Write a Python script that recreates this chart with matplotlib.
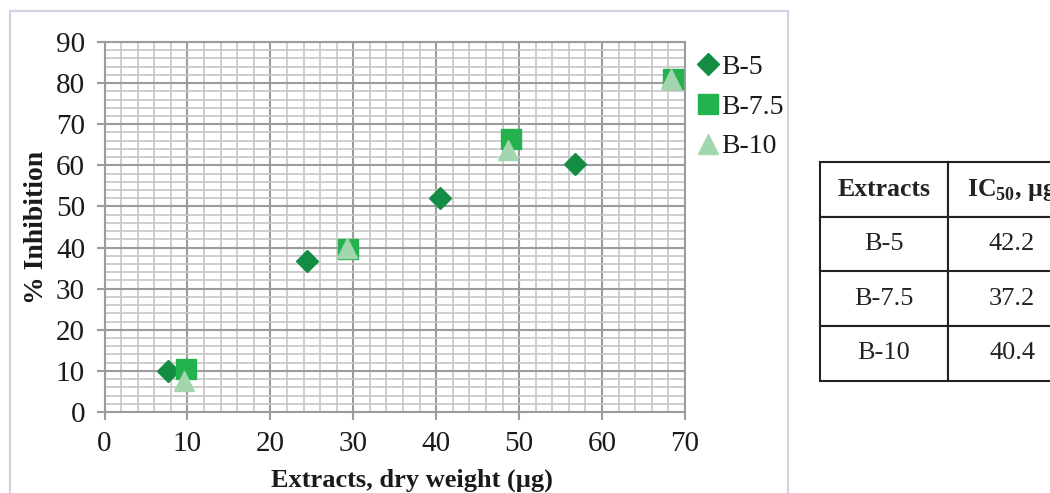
import matplotlib.pyplot as plt
from matplotlib.patches import Rectangle
from matplotlib.ticker import MultipleLocator

plt.rcParams["font.family"] = ["Liberation Serif", "DejaVu Serif"]
plt.rcParams["mathtext.fontset"] = "custom"
plt.rcParams["mathtext.rm"] = "Liberation Serif"
plt.rcParams["mathtext.bf"] = "Liberation Serif:bold"

# Inhibition data per extract
b5_x = [7.7, 24.4, 40.5, 56.7]
b5_y = [10.0, 36.8, 52.1, 60.3]
b75_x = [9.8, 29.4, 49.0, 68.6]
b75_y = [10.4, 39.6, 66.3, 80.9]
b10_x = [9.6, 29.2, 48.7, 68.3]
b10_y = [7.6, 40.0, 63.8, 81.0]

# IC50 table
extracts = ["B-5", "B-7.5", "B-10"]
ic50 = ["42.2", "37.2", "40.4"]

fig = plt.figure(figsize=(10.5, 4.93), dpi=100)

# light frame around the chart area
fig.patches.append(Rectangle((10 / 1050, -0.1), 778 / 1050, 1.1 - 11 / 493,
                             transform=fig.transFigure, fill=False,
                             edgecolor="#d6d1e3", linewidth=1.6, clip_on=False))

ax = fig.add_axes([104.5 / 1050, 1 - 412 / 493, 580.5 / 1050, 370 / 493])

ax.plot(b5_x, b5_y, linestyle="none", marker="D", markersize=11,
        color="#138d43", label="B-5", zorder=3)
ax.plot(b75_x, b75_y, linestyle="none", marker="s", markersize=14,
        color="#24b24f", label="B-7.5", zorder=4)
ax.plot(b10_x, b10_y, linestyle="none", marker="^", markersize=15,
        color="#a2d6ae", label="B-10", zorder=5)

ax.set_xlim(0, 70)
ax.set_ylim(0, 90)
ax.xaxis.set_major_locator(MultipleLocator(10))
ax.yaxis.set_major_locator(MultipleLocator(10))
ax.xaxis.set_minor_locator(MultipleLocator(2))
ax.yaxis.set_minor_locator(MultipleLocator(2))
ax.grid(which="major", color="#9c9c9c", linewidth=1.5, zorder=1)
ax.grid(which="minor", color="#c6c6c6", linewidth=1.2, zorder=0)
ax.set_axisbelow(True)
ax.tick_params(which="major", length=6, width=1.5, color="#9c9c9c",
               labelsize=21, pad=8, labelcolor="#1a1a1a")
ax.tick_params(which="minor", length=0)
for s in ax.spines.values():
    s.set_color("#9c9c9c")
    s.set_linewidth(1.5)

ax.set_xlabel("Extracts, dry weight (µg)", fontsize=19, fontweight="bold",
              color="#1a1a1a")
ax.xaxis.set_label_coords(0.529, -0.153)
ax.set_ylabel("% Inhibition", fontsize=20, fontweight="bold", labelpad=5,
              color="#1a1a1a")

ax.legend(loc="upper left", bbox_to_anchor=(0.993, 1.012), frameon=False,
          fontsize=20, handlelength=0.75, handletextpad=0.1,
          labelspacing=0.52, borderaxespad=0.2, labelcolor="#1a1a1a")

# IC50 summary table
tax = fig.add_axes([820 / 1050, 1 - 380.7 / 493, 256 / 1050, 218.4 / 493])
tax.axis("off")
cells = [[e, v] for e, v in zip(extracts, ic50)]
tbl = tax.table(cellText=cells, colLabels=["Extracts", r"IC$_{\mathbf{50}}$, µg"],
                cellLoc="center", bbox=[0, 0, 1, 1])
tbl.auto_set_font_size(False)
tbl.set_fontsize(19)
for (r, c), cell in tbl.get_celld().items():
    cell.set_linewidth(1.5)
    cell.set_edgecolor("#222222")
    cell.get_text().set_color("#222222")
    if r == 0:
        cell.get_text().set_fontweight("bold")
        cell.get_text().set_fontsize(18.5)
tbl.set_clip_on(False)

fig.savefig("out.png", dpi=100)
